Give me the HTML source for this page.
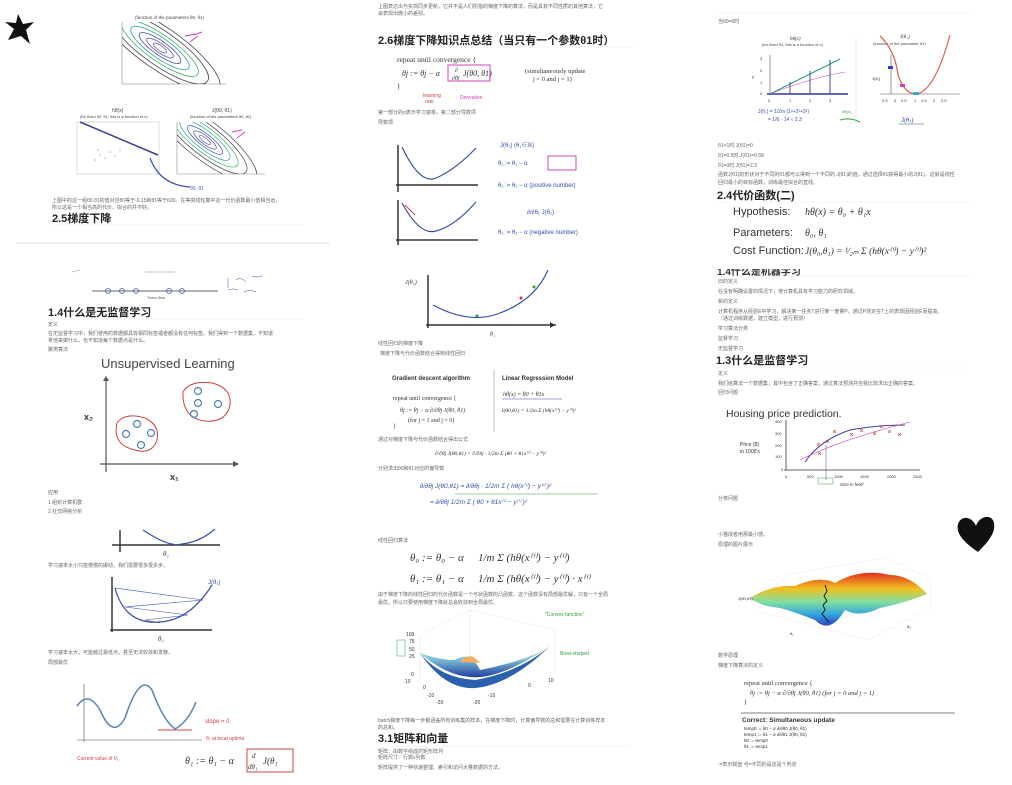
<!DOCTYPE html>
<html><head><meta charset="utf-8">
<style>
html,body{margin:0;padding:0;background:#fff;width:1012px;height:785px;overflow:hidden}
svg{display:block}
text{font-family:"Liberation Sans","Noto Sans CJK SC",sans-serif}
.t{font-size:5px;fill:#666}
.h{font-size:11px;font-weight:bold;fill:#222}
.m{font-family:"Liberation Serif","Noto Serif CJK SC",serif;fill:#333}
.ax{stroke:#333;stroke-width:1.5;fill:none}
.b{stroke:#3a4fb0;fill:none;stroke-width:1.2}
.r{stroke:#d04040;fill:none;stroke-width:1}
.p{stroke:#d040c0;fill:none;stroke-width:1}
.g{stroke:#30a040;fill:none;stroke-width:1}
</style></head><body>
<svg width="1012" height="785" viewBox="0 0 1012 785" xmlns="http://www.w3.org/2000/svg">
<defs>
<clipPath id="c1"><rect x="0" y="0" width="104" height="62"/></clipPath>
<clipPath id="c2"><rect x="0" y="0" width="88" height="52"/></clipPath>
<linearGradient id="bowl" x1="0" y1="0" x2="0" y2="1"><stop offset="0" stop-color="#f0d870"/><stop offset="0.35" stop-color="#8ad0e0"/><stop offset="1" stop-color="#2040a0"/></linearGradient>
<linearGradient id="surf" x1="0" y1="0" x2="0" y2="1"><stop offset="0" stop-color="#e03020"/><stop offset="0.3" stop-color="#f0c020"/><stop offset="0.55" stop-color="#80e0a0"/><stop offset="0.8" stop-color="#30a0e0"/><stop offset="1" stop-color="#3040c0"/></linearGradient>
</defs>
<!-- ============ COLUMN 1 ============ -->
<path d="M18,14 L23,24 L34,22 L26,30 L30,44 L21,36 L8,40 L14,29 L5,22 L16,23 Z" fill="#111"/>
<text x="135" y="19" font-size="4.5" fill="#444">(function of the parameters θ0, θ1)</text>
<g transform="translate(122,22)">
<line x1="0" y1="0" x2="0" y2="62" stroke="#888" stroke-width="0.6"/>
<line x1="0" y1="62" x2="104" y2="62" stroke="#888" stroke-width="0.6"/>
<g fill="none" stroke-width="0.8" clip-path="url(#c1)">
<ellipse cx="38" cy="26" rx="8" ry="2.5" transform="rotate(35 38 26)" stroke="#6a5fc0"/>
<ellipse cx="38" cy="26" rx="16" ry="4.5" transform="rotate(35 38 26)" stroke="#5a4fb0"/>
<ellipse cx="38" cy="26" rx="25" ry="7" transform="rotate(35 38 26)" stroke="#3a4fb0"/>
<ellipse cx="38" cy="26" rx="35" ry="10" transform="rotate(35 38 26)" stroke="#2aa0a0"/>
<ellipse cx="38" cy="26" rx="46" ry="13" transform="rotate(35 38 26)" stroke="#40b060"/>
<ellipse cx="38" cy="26" rx="58" ry="17" transform="rotate(35 38 26)" stroke="#445"/>
<ellipse cx="38" cy="26" rx="72" ry="21" transform="rotate(35 38 26)" stroke="#445"/>
</g>
<path d="M63,14 l10,-2 M68,20 l8,-6 M72,13 l8,-3" class="p"/>
</g>
<text x="112" y="112" font-size="5" fill="#444">hθ(x)</text>
<text x="80" y="118" font-size="4" fill="#444">(for fixed θ0, θ1, this is a function of x)</text>
<rect x="77" y="122" width="82" height="52" fill="none" stroke="#bbb" stroke-width="0.5"/>
<line x1="80" y1="122" x2="158" y2="155" stroke="#3a3f9a" stroke-width="1.5"/>
<g fill="#d8a8a8"><circle cx="95" cy="160" r="0.8"/><circle cx="100" cy="155" r="0.8"/><circle cx="105" cy="158" r="0.8"/><circle cx="110" cy="152" r="0.8"/><circle cx="115" cy="156" r="0.8"/><circle cx="120" cy="150" r="0.8"/><circle cx="98" cy="150" r="0.8"/></g>
<text x="212" y="112" font-size="5" fill="#444">J(θ0, θ1)</text>
<text x="190" y="118" font-size="4" fill="#444">(function of the parameters θ0, θ1)</text>
<g transform="translate(177,122)">
<line x1="0" y1="0" x2="0" y2="52" stroke="#888" stroke-width="0.6"/>
<line x1="0" y1="52" x2="88" y2="52" stroke="#888" stroke-width="0.6"/>
<g fill="none" stroke-width="0.7" clip-path="url(#c2)">
<ellipse cx="28" cy="18" rx="7" ry="2" transform="rotate(38 28 18)" stroke="#6a5fc0"/>
<ellipse cx="28" cy="18" rx="14" ry="4" transform="rotate(38 28 18)" stroke="#3a4fb0"/>
<ellipse cx="28" cy="18" rx="22" ry="6" transform="rotate(38 28 18)" stroke="#3a4fb0"/>
<ellipse cx="28" cy="18" rx="31" ry="9" transform="rotate(38 28 18)" stroke="#2aa0a0"/>
<ellipse cx="28" cy="18" rx="41" ry="12" transform="rotate(38 28 18)" stroke="#40b060"/>
<ellipse cx="28" cy="18" rx="52" ry="15" transform="rotate(38 28 18)" stroke="#445"/>
<ellipse cx="28" cy="18" rx="64" ry="19" transform="rotate(38 28 18)" stroke="#445"/>
</g>
<path d="M55,10 l10,-2 M60,16 l8,-6" class="p"/>
</g>
<path d="M150,158 Q160,185 190,187" class="b" stroke-width="0.8"/>
<text x="190" y="190" font-size="5" fill="#5060c0">θ0, θ1</text>
<text x="52" y="202" class="t">上图中的这一组θ0,θ1的值对应θ0等于-0.15和θ1等于600。在等高线轮廓中这一代价函数最小值相当远，</text>
<text x="52" y="209" class="t">所以这是一个相当高的代价，拟合的并不好。</text>
<text x="52" y="222" class="h">2.5梯度下降</text>
<line x1="52" y1="225" x2="305" y2="225" stroke="#eee" stroke-width="0.6"/>
<line x1="16" y1="243" x2="330" y2="243" stroke="#ddd" stroke-width="0.8"/>
<line x1="72" y1="272" x2="80" y2="270" stroke="#888" stroke-width="0.5"/>
<line x1="145" y1="272" x2="175" y2="272" stroke="#888" stroke-width="0.5"/>
<line x1="92" y1="291" x2="218" y2="291" stroke="#333" stroke-width="0.8"/>
<g fill="none" stroke="#4a5fc0" stroke-width="0.8"><circle cx="108" cy="291" r="2.5"/><circle cx="122" cy="291" r="2.5"/><circle cx="136" cy="291" r="2.5"/><circle cx="169" cy="291" r="2.5"/><circle cx="182" cy="291" r="2.5"/></g>
<text x="147" y="299" font-size="3.5" fill="#444">Tumor Size</text>
<path d="M228,278 v10 M236,280 q4,-4 10,2 M252,276 q6,2 10,0 M228,290 q6,-2 10,0 M244,292 q6,-3 12,0" stroke="#3a4fb0" stroke-width="0.5" fill="none"/>
<text x="48" y="316" class="h">1.4什么是无监督学习</text>
<line x1="48" y1="319" x2="305" y2="319" stroke="#eee" stroke-width="0.6"/>
<text x="48" y="326" class="t">定义</text>
<text x="48" y="335" class="t">在无监督学习中，我们使用的数据都具有相同标签或者都没有任何标签。我们得到一个数据集，不知道</text>
<text x="48" y="342" class="t">拿他来做什么，也不知道每个数据点是什么。</text>
<text x="48" y="351" class="t">聚类算法</text>
<text x="101" y="368" font-size="13" fill="#444">Unsupervised Learning</text>
<line x1="106" y1="378" x2="106" y2="472" stroke="#555" stroke-width="1.2"/>
<path d="M103,381 l3,-5 l3,5" fill="#555"/>
<line x1="100" y1="464" x2="238" y2="464" stroke="#555" stroke-width="1.2"/>
<path d="M233,461 l6,3 l-6,3" fill="#555"/>
<text x="84" y="420" font-size="9" font-weight="bold" fill="#333">x₂</text>
<text x="170" y="480" font-size="9" font-weight="bold" fill="#333">x₁</text>
<path d="M117,423 Q125,412 145,418 Q160,425 157,440 Q152,455 135,450 Q112,445 117,423 Z" class="r"/>
<path d="M183,392 Q190,380 212,383 Q232,388 230,405 Q226,423 205,421 Q182,418 183,392 Z" class="r"/>
<g fill="none" stroke="#4a80c0" stroke-width="1.2"><circle cx="137" cy="424" r="3.5"/><circle cx="126" cy="434" r="3.5"/><circle cx="151" cy="433" r="3.5"/><circle cx="141" cy="445" r="3.5"/><circle cx="198" cy="391" r="3.5"/><circle cx="198" cy="403" r="3.5"/><circle cx="218" cy="404" r="3.5"/><circle cx="194" cy="414" r="3.5"/></g>
<text x="48" y="494" class="t">应用</text>
<text x="48" y="504" class="t">1.组织计算机群</text>
<text x="48" y="513" class="t">2.社交网络分析</text>
<line x1="112" y1="545" x2="220" y2="545" class="ax" stroke-width="1"/>
<line x1="120" y1="530" x2="120" y2="552" class="ax" stroke-width="1.2"/>
<path d="M143,530 Q170,548 182,544 Q200,542 215,529" class="b"/>
<text x="163" y="556" font-size="7" class="m" font-style="italic">θ₁</text>
<text x="48" y="567" class="t">学习速率太小只能慢慢的挪动，我们需要很多很多步。</text>
<line x1="112" y1="577" x2="112" y2="632" class="ax" stroke-width="1.2"/>
<line x1="110" y1="630" x2="212" y2="630" class="ax" stroke-width="1"/>
<path d="M115,588 Q125,625 160,622 Q190,620 212,585" class="b"/>
<path d="M115,588 L203,600 L125,607 L188,615 L145,620 L160,623" stroke="#3a4fb0" stroke-width="0.6" fill="none"/>
<text x="208" y="584" font-size="6" fill="#3a4fb0">J(θ₁)</text>
<text x="158" y="641" font-size="7" class="m" font-style="italic">θ₁</text>
<text x="48" y="654" class="t">学习速率太大，可能越过最低点，甚至无法收敛和发散。</text>
<text x="48" y="664" class="t">局部最优</text>
<line x1="84" y1="684" x2="84" y2="742" stroke="#555" stroke-width="0.6"/>
<line x1="77" y1="740" x2="202" y2="740" stroke="#555" stroke-width="0.6"/>
<path d="M77,706 Q88,690 100,710 Q113,740 125,718 Q140,672 152,690 Q163,720 175,729 Q188,722 196,702" stroke="#5a8ac0" stroke-width="1.6" fill="none"/>
<line x1="158" y1="730" x2="192" y2="730" class="r" stroke-width="0.6"/>
<text x="205" y="723" font-size="6" fill="#d04040">slope = 0</text>
<text x="206" y="740" font-size="5" fill="#d04040">θ₁ at local optima</text>
<text x="77" y="760" font-size="5" fill="#d04040">Current value of θ₁</text>
<text x="185" y="764" font-size="10" class="m" font-style="italic">θ₁ := θ₁ − α</text>
<text x="252" y="758" font-size="7" class="m" font-style="italic">d</text>
<text x="248" y="769" font-size="7" class="m" font-style="italic">dθ₁</text>
<text x="263" y="764" font-size="9" class="m" font-style="italic">J(θ₁</text>
<rect x="247" y="749" width="46" height="23" class="r" stroke-width="0.8"/>
<!-- ============ COLUMN 2 ============ -->
<text x="378" y="8" class="t">上图表达出与实现同步更新，它并不是人们所指的梯度下降的算法，而是具有不同性质的其他算法，它</text>
<text x="378" y="15" class="t">会表现出微小的差别。</text>
<text x="378" y="44" class="h">2.6梯度下降知识点总结（当只有一个参数θ1时）</text>
<line x1="378" y1="47" x2="635" y2="47" stroke="#eee" stroke-width="0.6"/>
<text x="397" y="62" font-size="7.5" class="m">repeat until convergence {</text>
<text x="402" y="76" font-size="8" class="m" font-style="italic">θj := θj − α</text>
<text x="455" y="72" font-size="6" class="m" font-style="italic">∂</text>
<text x="452" y="80" font-size="6" class="m" font-style="italic">∂θj</text>
<text x="463" y="76" font-size="8" class="m" font-style="italic">J(θ0, θ1)</text>
<rect x="448" y="65" width="42" height="16" class="p"/>
<text x="525" y="73" font-size="6.5" class="m">(simultaneously update</text>
<text x="533" y="81" font-size="6.5" class="m">j = 0 and j = 1)</text>
<text x="397" y="88" font-size="7" class="m">}</text>
<text x="423" y="97" font-size="5" fill="#d04040">learning</text><text x="425" y="103" font-size="5" fill="#d04040">rate</text>
<text x="460" y="99" font-size="5" fill="#d040c0">Derivative</text>
<text x="378" y="114" class="t">第一部分的α表示学习速率，第二部分导数项</text>
<text x="378" y="124" class="t">导数项</text>
<line x1="398" y1="145" x2="398" y2="192" class="ax" stroke-width="1"/>
<line x1="396" y1="185" x2="478" y2="185" class="ax" stroke-width="1"/>
<path d="M402,147 Q420,185 436,178 Q455,170 476,148" class="b"/>
<line x1="398" y1="200" x2="398" y2="245" class="ax" stroke-width="1"/>
<line x1="396" y1="240" x2="478" y2="240" class="ax" stroke-width="1"/>
<path d="M402,203 Q420,236 436,231 Q455,226 476,202" class="b"/>
<path d="M405,205 l10,10" class="r"/>
<text x="500" y="147" font-size="6" fill="#3a4fb0">J(θ₁)  (θ₁∈ℝ)</text>
<text x="498" y="165" font-size="6" fill="#3a4fb0">θ₁ := θ₁ − α</text>
<rect x="548" y="156" width="28" height="14" class="p"/>
<text x="498" y="187" font-size="6" fill="#3a4fb0">θ₁ := θ₁ − α (positive number)</text>
<text x="527" y="214" font-size="6" fill="#3a4fb0">∂/∂θ₁ J(θ₁)</text>
<text x="498" y="234" font-size="6" fill="#3a4fb0">θ₁ := θ₁ − α (negative number)</text>
<line x1="428" y1="275" x2="428" y2="328" class="ax" stroke-width="1.3"/>
<line x1="426" y1="325" x2="556" y2="325" class="ax" stroke-width="1.3"/>
<path d="M555,325 l-5,-3 v6z" fill="#333"/>
<path d="M433,305 Q470,325 500,313 Q535,300 548,270" class="b"/>
<circle cx="477" cy="316" r="1.5" fill="#2a2"/><circle cx="521" cy="298" r="1.5" fill="#d33"/><circle cx="534" cy="287" r="1.5" fill="#2a2"/>
<text x="405" y="284" font-size="6" class="m" font-style="italic">J(θ₁)</text>
<text x="490" y="336" font-size="6" class="m" font-style="italic">θ₁</text>
<text x="378" y="345" class="t">线性回归的梯度下降</text>
<text x="380" y="355" class="t">梯度下降与代价函数结合得到线性回归</text>
<text x="392" y="380" font-size="6" font-weight="bold" fill="#333">Gradient descent algorithm</text>
<text x="502" y="380" font-size="6" font-weight="bold" fill="#333">Linear Regression Model</text>
<line x1="494" y1="370" x2="494" y2="432" stroke="#999" stroke-width="0.6"/>
<text x="393" y="400" font-size="6" class="m">repeat until convergence {</text>
<text x="400" y="412" font-size="6" class="m" font-style="italic">θj := θj − α ∂/∂θj J(θ0, θ1)</text>
<text x="408" y="422" font-size="6" class="m">(for j = 1 and j = 0)</text>
<text x="393" y="428" font-size="6" class="m">}</text>
<text x="503" y="396" font-size="6" class="m" font-style="italic">hθ(x) = θ0 + θ1x</text>
<line x1="502" y1="399" x2="562" y2="399" stroke="#3a4fb0" stroke-width="0.6"/>
<text x="501" y="412" font-size="5.5" class="m" font-style="italic">J(θ0,θ1) = 1/2m Σ (hθ(x⁽ⁱ⁾) − y⁽ⁱ⁾)²</text>
<text x="378" y="441" class="t">通过对梯度下降与代价函数结合得出公式</text>
<text x="435" y="455" font-size="5.5" class="m" font-style="italic">∂/∂θj J(θ0,θ1) = ∂/∂θj · 1/2m Σ (θ0 + θ1x⁽ⁱ⁾ − y⁽ⁱ⁾)²</text>
<text x="378" y="470" class="t">分别求出θ0和θ1对应的偏导数</text>
<text x="420" y="488" font-size="6.5" fill="#3a4fb0" font-style="italic">∂/∂θj J(θ0,θ1) = ∂/∂θj · 1/2m Σ ( hθ(x⁽ⁱ⁾) − y⁽ⁱ⁾ )²</text>
<line x1="455" y1="494" x2="598" y2="494" stroke="#30a040" stroke-width="0.6"/>
<text x="430" y="504" font-size="6.5" fill="#3a4fb0" font-style="italic">= ∂/∂θj 1/2m Σ ( θ0 + θ1x⁽ⁱ⁾ − y⁽ⁱ⁾ )²</text>
<text x="378" y="542" class="t">线性回归算法</text>
<text x="410" y="561" font-size="11" class="m" font-style="italic">θ₀ := θ₀ − α</text>
<text x="478" y="561" font-size="11" class="m" font-style="italic">1/m Σ (hθ(x⁽ⁱ⁾) − y⁽ⁱ⁾)</text>
<text x="410" y="582" font-size="11" class="m" font-style="italic">θ₁ := θ₁ − α</text>
<text x="478" y="582" font-size="11" class="m" font-style="italic">1/m Σ (hθ(x⁽ⁱ⁾) − y⁽ⁱ⁾) · x⁽ⁱ⁾</text>
<text x="378" y="596" class="t">由于梯度下降的线性回归的代价函数是一个弓状函数的凸函数，这个函数没有局部最优解，只有一个全局</text>
<text x="378" y="604" class="t">最优。所以只要使用梯度下降就总会收敛到全局最优。</text>
<text x="545" y="616" font-size="5" fill="#30a040">"Convex function"</text>
<text x="560" y="655" font-size="5" fill="#30a040">Bowl-shaped</text>
<g font-size="5" class="m">
<text x="406" y="636">100</text><text x="409" y="643">75</text><text x="409" y="651">50</text><text x="409" y="658">25</text><text x="411" y="676">0</text>
<text x="405" y="683">10</text><text x="423" y="689">0</text><text x="427" y="697">-10</text><text x="436" y="704">-20</text>
<text x="473" y="704">-20</text><text x="488" y="697">-10</text><text x="528" y="687">0</text><text x="548" y="682">10</text>
</g>
<rect x="397" y="640" width="8" height="16" fill="none" stroke="#30a040" stroke-width="0.5"/>
<g stroke="#ddd" stroke-width="0.4" fill="none"><path d="M420,635 L470,610 L555,630 M470,610 V660 M420,635 V680 M555,630 V675"/></g>
<path d="M420,653 Q445,675 470,677 Q500,680 550,646 Q530,660 480,670 Q470,650 455,660 Q440,660 420,653 Z" fill="url(#bowl)"/>
<path d="M420,653 Q445,690 475,688 Q510,685 550,646 Q520,672 475,680 Q440,678 420,653 Z" fill="#2a60b0"/>
<path d="M460,662 Q470,650 480,663 Z" fill="#f0b060"/>
<text x="378" y="722" class="t">batch梯度下降每一步都涵盖所有训练集的样本，在梯度下降时，计算偏导数的总和需要在计算训练样本</text>
<text x="378" y="729" class="t">的总和。</text>
<text x="378" y="742" class="h">3.1矩阵和向量</text>
<line x1="378" y1="746" x2="630" y2="746" stroke="#eee" stroke-width="0.6"/>
<text x="378" y="753" class="t">矩阵：由数字组成的矩形阵列</text>
<text x="378" y="759" class="t">矩阵尺寸：行数x列数</text>
<text x="378" y="769" class="t">矩阵提供了一种快速整理、索引和访问大量数据的方法。</text>
<!-- ============ COLUMN 3 ============ -->
<line x1="715" y1="13" x2="970" y2="13" stroke="#eee" stroke-width="0.6"/>
<text x="718" y="23" class="t">当θ0=0时</text>
<text x="790" y="40" font-size="5" class="m" font-style="italic">hθ(x)</text>
<text x="762" y="46" font-size="4" fill="#444">(for fixed θ1, this is a function of x)</text>
<line x1="770" y1="55" x2="770" y2="95" stroke="#555" stroke-width="0.6"/>
<line x1="767" y1="94" x2="848" y2="94" stroke="#2a3a9a" stroke-width="1.6"/>
<line x1="770" y1="94" x2="840" y2="59" stroke="#30a080" stroke-width="1"/>
<path d="M770,94 Q810,78 845,72" stroke="#d040c0" stroke-width="0.6" fill="none"/>
<g stroke="#2a3a9a" stroke-width="0.9"><line x1="790" y1="82" x2="790" y2="94"/><line x1="810" y1="71" x2="810" y2="94"/><line x1="830" y1="60" x2="830" y2="94"/></g>
<g font-size="4" fill="#333"><text x="760" y="60">3</text><text x="760" y="72">2</text><text x="760" y="84">1</text><text x="760" y="95">0</text><text x="768" y="102">0</text><text x="789" y="102">1</text><text x="809" y="102">2</text><text x="829" y="102">3</text><text x="752" y="78">y</text></g>
<text x="758" y="113" font-size="5" fill="#3a4fb0">J(θ₁) = 1/2m (1²+2²+3²)</text>
<text x="768" y="121" font-size="5" fill="#3a4fb0">= 1/6 · 14 ≈ 2.3</text>
<text x="842" y="113" font-size="4" fill="#30a040">hθ(x)</text>
<path d="M840,120 q10,-3 20,2" class="g"/>
<line x1="856" y1="38" x2="856" y2="125" stroke="#ddd" stroke-width="0.5"/>
<text x="900" y="38" font-size="5" class="m" font-style="italic">J(θ₁)</text>
<text x="873" y="45" font-size="4" fill="#444">(function of the parameter θ1)</text>
<line x1="891" y1="55" x2="891" y2="94" stroke="#555" stroke-width="0.6"/>
<line x1="880" y1="94" x2="960" y2="94" stroke="#555" stroke-width="0.6"/>
<path d="M880,36 Q895,50 898,75 Q905,95 917,94 Q935,90 950,35" stroke="#e06040" stroke-width="1.2" fill="none"/>
<rect x="888" y="66" width="5" height="3" fill="#3040c0"/><rect x="900" y="84" width="5" height="3" fill="#d040c0"/><rect x="913" y="92" width="6" height="3" fill="#30b0d0"/>
<g font-size="4" fill="#333"><text x="882" y="102">0.5</text><text x="894" y="102">0</text><text x="901" y="102">0.5</text><text x="914" y="102">1</text><text x="921" y="102">1.5</text><text x="933" y="102">2</text><text x="941" y="102">2.5</text><text x="872" y="80">J(θ₁)</text></g>
<text x="901" y="122" font-size="6" fill="#3a4fb0">J(θ₁)</text>
<line x1="898" y1="124" x2="924" y2="124" stroke="#3a4fb0" stroke-width="0.5"/>
<text x="718" y="147" class="t">θ1=1时  J(θ1)=0</text>
<text x="718" y="157" class="t">θ1=0.5时  J(θ1)=0.58</text>
<text x="718" y="167" class="t">θ1=0时  J(θ1)=2.3</text>
<text x="718" y="176" class="t">函数J(θ1)的形状对于不同的θ1都可以得到一个不同的 J(θ1)的值，通过选择θ1获得最小的J(θ1)，这就是线性</text>
<text x="718" y="184" class="t">回归最小的目标函数，训练最佳拟合的直线。</text>
<text x="717" y="199" class="h">2.4代价函数(二)</text>
<line x1="717" y1="202" x2="970" y2="202" stroke="#eee" stroke-width="0.6"/>
<text x="733" y="215" font-size="11" fill="#333">Hypothesis:</text>
<text x="805" y="215" font-size="10" class="m" font-style="italic">hθ(x) = θ₀ + θ₁x</text>
<text x="733" y="236" font-size="11" fill="#333">Parameters:</text>
<text x="805" y="236" font-size="10" class="m" font-style="italic">θ₀, θ₁</text>
<text x="733" y="254" font-size="11" fill="#333">Cost Function:</text>
<text x="805" y="254" font-size="9.5" class="m" font-style="italic">J(θ₀,θ₁) = ¹⁄₂ₘ Σ (hθ(x⁽ⁱ⁾) − y⁽ⁱ⁾)²</text>
<text x="717" y="275" font-size="10" font-weight="bold" fill="#333">1.4什么是机器学习</text>
<rect x="717" y="262" width="100" height="7" fill="#fff"/>
<line x1="717" y1="276" x2="970" y2="276" stroke="#eee" stroke-width="0.6"/>
<text x="718" y="283" class="t">旧的定义</text>
<text x="718" y="293" class="t">在没有明确设置的情况下，使计算机具有学习能力的研究领域。</text>
<text x="718" y="303" class="t">新的定义</text>
<text x="718" y="313" class="t">计算机程序从经验E中学习，解决某一任务T进行某一度量P，通过P测定在T上的表现因经验E而提高。</text>
<text x="718" y="320" class="t">（通过训练数据，建立模型，进行预测）</text>
<text x="718" y="330" class="t">学习算法分类</text>
<text x="718" y="340" class="t">监督学习</text>
<text x="718" y="350" class="t">无监督学习</text>
<text x="716" y="364" class="h">1.3什么是监督学习</text>
<line x1="716" y1="368" x2="970" y2="368" stroke="#eee" stroke-width="0.6"/>
<text x="718" y="375" class="t">定义</text>
<text x="718" y="385" class="t">我们给算法一个数据集，其中包含了正确答案，通过算法预测并自我比较求出正确的答案。</text>
<text x="718" y="394" class="t">回归问题</text>
<text x="726" y="417" font-size="10.5" fill="#333">Housing price prediction.</text>
<line x1="786" y1="420" x2="786" y2="470" stroke="#333" stroke-width="0.8"/>
<line x1="784" y1="470" x2="920" y2="470" stroke="#333" stroke-width="0.8"/>
<g font-size="4" fill="#333"><text x="775" y="423">400</text><text x="775" y="435">300</text><text x="775" y="447">200</text><text x="775" y="458">100</text><text x="781" y="471">0</text><text x="785" y="478">0</text><text x="807" y="478">500</text><text x="834" y="478">1000</text><text x="860" y="478">1500</text><text x="887" y="478">2000</text><text x="913" y="478">2500</text></g>
<text x="740" y="446" font-size="5" fill="#333">Price ($)</text><text x="740" y="453" font-size="5" fill="#333">in 1000's</text>
<path d="M805,462 Q820,440 850,430 Q880,425 905,425" stroke="#3a3f9a" stroke-width="1" fill="none"/>
<path d="M800,460 Q840,440 910,422" stroke="#d040c0" stroke-width="0.6" fill="none"/>
<g stroke="#d04040" stroke-width="0.6"><path d="M817,443 l3,3 m0,-3 l-3,3 M826,440 l3,3 m0,-3 l-3,3 M833,430 l3,3 m0,-3 l-3,3 M850,433 l3,3 m0,-3 l-3,3 M860,429 l3,3 m0,-3 l-3,3 M873,432 l3,3 m0,-3 l-3,3 M880,425 l3,3 m0,-3 l-3,3 M888,430 l3,3 m0,-3 l-3,3 M898,433 l3,3 m0,-3 l-3,3 M818,452 l3,3 m0,-3 l-3,3"/></g>
<line x1="826" y1="445" x2="826" y2="480" stroke="#3a4fb0" stroke-width="0.5"/>
<text x="840" y="486" font-size="4.5" fill="#333">Size in feet²</text>
<rect x="818" y="478" width="15" height="6" fill="none" stroke="#30a040" stroke-width="0.5"/>
<text x="718" y="500" class="t">分类问题</text>
<path d="M978,552 C968,545 955,535 958,524 C961,515 972,516 976,526 C979,516 992,513 994,523 C996,534 986,544 978,552 Z" fill="#111"/>
<text x="718" y="536" class="t">小猫成者用那最小感。</text>
<text x="718" y="546" class="t">原理的图片展示</text>
<path d="M760,598 L790,574 L885,558 L930,578 L930,608 L868,640 L760,612 Z" fill="none" stroke="#e8e8e8" stroke-width="0.5"/>
<path d="M750,598 Q770,585 795,586 Q820,575 835,583 Q860,568 890,575 Q910,575 927,594 Q905,603 880,608 Q860,618 845,610 Q830,635 815,620 Q795,612 780,608 Q760,606 750,598 Z" fill="url(#surf)"/>
<path d="M825,585 l2,6 l-3,5 l3,5 l-4,4 l2,5 l-3,4 l4,5 l3,3" stroke="#111" stroke-width="0.9" fill="none"/>
<text x="738" y="600" font-size="4" fill="#333">J(θ0,θ1)</text>
<text x="790" y="635" font-size="4" fill="#333">θ₁</text>
<text x="907" y="628" font-size="4" fill="#333">θ₀</text>
<text x="718" y="657" class="t">数学原理</text>
<text x="718" y="667" class="t">梯度下降算法的定义</text>
<text x="744" y="685" font-size="6.5" class="m">repeat until convergence {</text>
<text x="750" y="695" font-size="6.5" class="m" font-style="italic">θj := θj − α ∂/∂θj J(θ0, θ1)     (for j = 0 and j = 1)</text>
<text x="744" y="704" font-size="6.5" class="m">}</text>
<line x1="741" y1="713" x2="955" y2="713" stroke="#555" stroke-width="0.7"/>
<text x="742" y="722" font-size="6.5" font-weight="bold" fill="#333">Correct: Simultaneous update</text>
<g font-size="4.5" class="m" fill="#3a4fb0"><text x="744" y="730">temp0 := θ0 − α ∂/∂θ0 J(θ0, θ1)</text><text x="744" y="736">temp1 := θ1 − α ∂/∂θ1 J(θ0, θ1)</text><text x="744" y="742">θ0 := temp0</text><text x="744" y="748">θ1 := temp1</text></g>
<text x="718" y="766" class="t">:=表示赋值 与=不同的是这是个判定</text>
</svg>
</body></html>
